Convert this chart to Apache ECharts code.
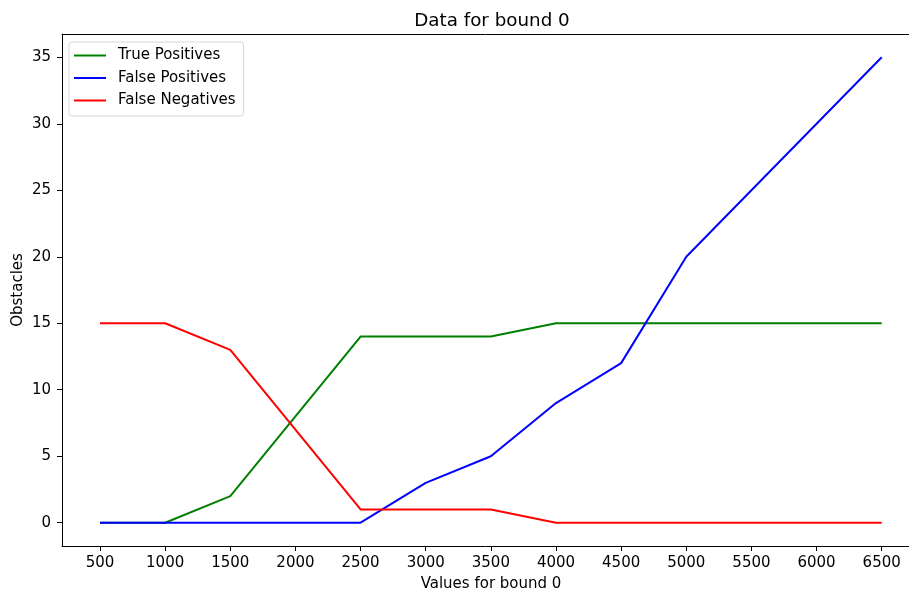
<!DOCTYPE html>
<html><head><meta charset="utf-8">
<script src="https://cdn.jsdelivr.net/npm/echarts@6/dist/echarts.min.js"></script>
<style>html,body{margin:0;padding:0;background:#fff}#c{width:909px;height:594px}</style>
</head><body><div id="c"></div>
<script>
const xValues = [500,1000,1500,2000,2500,3000,3500,4000,4500,5000,5500,6000,6500];
const truePositives  = [0,0,2,8,14,14,14,15,15,15,15,15,15];
const falsePositives = [0,0,0,0,0,3,5,9,12,20,25,30,35];
const falseNegatives = [15,15,13,7,1,1,1,0,0,0,0,0,0];
const xTicks = [500,1000,1500,2000,2500,3000,3500,4000,4500,5000,5500,6000,6500];
const yTicks = [0,5,10,15,20,25,30,35];

const font = 'DejaVu Sans';
const fs = 15;
const pair = arr => xValues.map((x,i)=>[x,arr[i]]);
const chart = echarts.init(document.getElementById('c'), null, {renderer:'canvas'});
const axisLine = {show:true, onZero:false, lineStyle:{color:'#000', width:1}};
chart.setOption({
  animation:false,
  backgroundColor:'#fff',
  title:{text:'Data for bound 0', left:487, top:7, textAlign:'center',
    textStyle:{fontFamily:font, fontSize:18.3, fontWeight:'normal', color:'#000'}},
  grid:{left:62, top:34, right:0, bottom:48, show:false, containLabel:false, outerBoundsMode:'none'},
  legend:{orient:'vertical', left:69, top:42, padding:[6,8,8,5], itemGap:7.5,
    borderColor:'#d8d8d8', borderWidth:1, borderRadius:3, backgroundColor:'rgba(255,255,255,0.8)',
    icon:'rect', itemWidth:32, itemHeight:2,
    textStyle:{fontFamily:font, fontSize:fs, color:'#000', padding:[0,0,0,7]},
    data:['True Positives','False Positives','False Negatives']},
  xAxis:[{type:'value', min:208.3, max:6709.5, position:'bottom',
    name:'Values for bound 0', nameLocation:'middle', nameGap:31, nameMoveOverlap:false,
    nameTextStyle:{fontFamily:font, fontSize:fs, color:'#000', padding:[0,0,0,11]},
    axisLine:axisLine,
    axisTick:{show:true, inside:false, length:5, lineStyle:{color:'#000'}, customValues:xTicks},
    axisLabel:{fontFamily:font, fontSize:fs, color:'#000', margin:10, customValues:xTicks, formatter:v=>String(v)},
    splitLine:{show:false}},
   {type:'value', min:208.3, max:6709.5, position:'top',
    axisLine:axisLine, axisTick:{show:false}, axisLabel:{show:false}, splitLine:{show:false}}],
  yAxis:{type:'value', min:-1.75, max:36.75,
    name:'Obstacles', nameLocation:'middle', nameGap:36, nameRotate:90, nameMoveOverlap:false,
    nameTextStyle:{fontFamily:font, fontSize:fs, color:'#000'},
    axisLine:axisLine,
    axisTick:{show:true, inside:false, length:5, lineStyle:{color:'#000'}, customValues:yTicks},
    axisLabel:{fontFamily:font, fontSize:fs, color:'#000', margin:11, customValues:yTicks, formatter:v=>String(v)},
    splitLine:{show:false}},
  series:[
    {name:'True Positives', type:'line', data:pair(truePositives), symbol:'none', color:'#008000', lineStyle:{width:2, color:'#008000'}},
    {name:'False Positives', type:'line', data:pair(falsePositives), symbol:'none', color:'#0000ff', lineStyle:{width:2, color:'#0000ff'}},
    {name:'False Negatives', type:'line', data:pair(falseNegatives), symbol:'none', color:'#ff0000', lineStyle:{width:2, color:'#ff0000'}}
  ]
});
</script></body></html>
